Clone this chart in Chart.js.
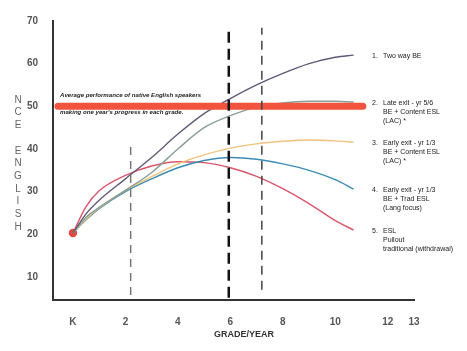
<!DOCTYPE html>
<html>
<head>
<meta charset="utf-8">
<script src="https://cdn.jsdelivr.net/npm/chart.js@4.4.1/dist/chart.umd.min.js"></script>
<style>
  html, body { margin: 0; padding: 0; background: #fff; }
  #wrap { width: 467px; height: 351px; }
</style>
</head>
<body>
<div id="wrap"><canvas id="nce"></canvas></div>
<script>
// Grade/year positions (K = 0) and NCE English scores
const grades = [0, 0.5, 1, 2, 3, 4, 5, 6, 7, 8, 9, 10, 10.7];
const twoWayBE         = [20.3, 24.8, 28.0, 33.0, 38.0, 43.5, 48.3, 51.8, 55.0, 57.7, 60.0, 61.5, 62.0];
const lateExit         = [20.3, 24.0, 26.3, 30.3, 34.5, 40.0, 45.0, 47.8, 49.8, 50.8, 51.2, 51.2, 51.0];
const earlyExitContent = [20.3, 23.6, 26.2, 30.3, 33.5, 36.5, 38.6, 40.2, 41.2, 41.8, 42.1, 41.9, 41.6];
const earlyExitTrad    = [20.3, 23.4, 26.0, 30.0, 33.0, 35.6, 37.3, 38.0, 37.6, 36.5, 35.0, 32.8, 30.6];
const eslPullout       = [20.3, 26.5, 30.2, 33.8, 36.0, 37.0, 36.8, 35.6, 33.6, 30.7, 27.2, 23.2, 21.0];

// native speaker reference band (NCE 50) and the dashed grade markers
const bandGrades = [-0.57, 11.05];
const bandValue = 50;
const markerGrades = [2.2, 5.94, 7.2];
const markerSpans = [[5.8, 41.4], [5.1, 68.4], [7.0, 68.4]];

const xTicks = [0, 2, 4, 6, 8, 10, 12, 13];
const yTicks = [10, 20, 30, 40, 50, 60, 70];

const seriesLabels = [
  ['Two way BE'],
  ['Late exit - yr 5/6', 'BE + Content ESL', '(LAC) *'],
  ['Early exit - yr 1/3', 'BE + Content ESL', '(LAC) *'],
  ['Early exit - yr 1/3', 'BE + Trad ESL', '(Lang focus)'],
  ['ESL', 'Pullout', 'traditional (withdrawal)'],
];
const seriesValues = [twoWayBE, lateExit, earlyExitContent, earlyExitTrad, eslPullout];
const seriesColors = ['#5e5a78', '#8a9e94', '#f1c27c', '#3b8db3', '#d9566b'];

const toPoints = (xs, ys) => xs.map((x, i) => ({ x, y: ys[i] }));

const datasets = [];

// dashed markers on top
markerGrades.forEach((g, i) => {
  datasets.push({
    data: markerSpans[i].map(v => ({ x: g, y: v })),
    borderColor: ['#777', '#111', '#444'][i],
    borderWidth: [1.5, 2.5, 1.5][i],
    borderDash: [[8, 6], [11, 6], [9, 6]][i],
    pointRadius: 0,
    order: 0,
  });
});

datasets.push({
  data: bandGrades.map(g => ({ x: g, y: bandValue })),
  borderColor: '#f2533f',
  borderWidth: 7,
  borderCapStyle: 'round',
  pointRadius: 0,
  order: 1,
});

seriesValues.forEach((vals, i) => {
  datasets.push({
    data: toPoints(grades, vals),
    borderColor: seriesColors[i],
    borderWidth: 1.4,
    cubicInterpolationMode: 'monotone',
    pointRadius: i === 4 ? grades.map((g, k) => (k === 0 ? 3.5 : 0)) : 0,
    pointBackgroundColor: '#e0483f',
    pointBorderColor: '#e0483f',
    order: 2,
  });
});

const notes = {
  id: 'notes',
  afterDraw(chart) {
    const { ctx, scales: { y } } = chart;
    ctx.save();
    ctx.fillStyle = '#222';
    ctx.textBaseline = 'middle';

    // band caption
    ctx.font = 'italic bold 6.1px "Liberation Sans", Arial, sans-serif';
    ctx.textAlign = 'left';
    ctx.fillText('Average performance of native English speakers', 60, 95);
    ctx.fillText("making one year's progress in each grade.", 60, 112);

    // series labels at the right, aligned with each line's end
    ctx.font = '7px "Liberation Sans", Arial, sans-serif';
    seriesValues.forEach((vals, i) => {
      const top = y.getPixelForValue(vals[vals.length - 1]) + 1;
      ctx.fillText((i + 1) + '.', 372, top);
      seriesLabels[i].forEach((line, k) => ctx.fillText(line, 383, top + k * 9));
    });

    // stacked y title
    ctx.fillStyle = '#666';
    ctx.font = '10px "Liberation Sans", Arial, sans-serif';
    ctx.textAlign = 'center';
    'NCE ENGLISH'.split('').forEach((ch, k) => ctx.fillText(ch, 18, 100 + k * 12.7));

    // x title
    ctx.fillStyle = '#333';
    ctx.font = 'bold 9px "Liberation Sans", Arial, sans-serif';
    ctx.fillText('GRADE/YEAR', 244, 335);
    ctx.restore();
  },
};

new Chart(document.getElementById('nce'), {
  type: 'line',
  data: { datasets },
  options: {
    responsive: true,
    maintainAspectRatio: false,
    animation: false,
    layout: { padding: { top: 21, right: 53, left: 0, bottom: 0 } },
    plugins: { legend: { display: false }, tooltip: { enabled: false } },
    scales: {
      x: {
        type: 'linear',
        min: -0.76,
        max: 13,
        afterBuildTicks: s => { s.ticks = xTicks.map(v => ({ value: v })); },
        afterFit: s => { s.height = 51; },
        grid: { display: false },
        border: { display: true, color: '#333', width: 2 },
        ticks: {
          padding: 8,
          color: '#555',
          font: { family: 'Liberation Sans', size: 10, weight: 'bold' },
          callback: v => (v === 0 ? 'K' : String(v)),
        },
      },
      y: {
        min: 4.6,
        max: 70,
        afterBuildTicks: s => { s.ticks = yTicks.map(v => ({ value: v })); },
        afterFit: s => { s.width = 53; },
        grid: { display: false },
        border: { display: true, color: '#333', width: 2 },
        ticks: {
          padding: 7,
          color: '#555',
          font: { family: 'Liberation Sans', size: 10, weight: 'bold' },
        },
      },
    },
  },
  plugins: [notes],
});
</script>
</body>
</html>
